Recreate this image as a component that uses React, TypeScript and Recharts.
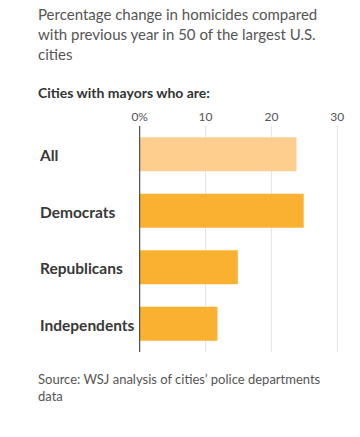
import React from "react";
import { BarChart, Bar, XAxis, YAxis, CartesianGrid, Cell } from "recharts";

const categories = ["All", "Democrats", "Republicans", "Independents"];
const values = [23.8, 24.9, 14.9, 11.8];
const barColors = ["#FDCE8E", "#FBB130", "#FBB130", "#FBB130"];
const xTicks = [0, 10, 20, 30];

const data = categories.map((c, i) => ({ name: c, value: values[i] }));

const FONT = "Lato, 'Noto Sans', sans-serif";

const CatTick = (props: any) => {
  const { y, payload } = props;
  return (
    <text x={40} y={y} dy={7} textAnchor="start" fontFamily={FONT} fontWeight={700} fontSize={15.5} fill="#383838">
      {payload.value}
    </text>
  );
};

export default function App() {
  return (
    <div style={{ position: "absolute", left: 0, top: 0, width: 360, height: 437, background: "#fff", fontFamily: FONT }}>
      <div style={{ position: "absolute", left: 38, top: 4, fontSize: 15, lineHeight: "20px", color: "#555" }}>
        <div>Percentage change in homicides compared</div>
        <div>with previous year in 50 of the largest U.S.</div>
        <div>cities</div>
      </div>
      <div style={{ position: "absolute", left: 38, top: 83, fontSize: 14, lineHeight: "20px", fontWeight: 700, color: "#333" }}>
        Cities with mayors who are:
      </div>
      <div style={{ position: "absolute", left: 0, top: 0 }}>
        <BarChart
          width={360}
          height={437}
          data={data}
          layout="vertical"
          margin={{ top: 106, right: 22.7, bottom: 85, left: 39.7 }}
          barCategoryGap="20%"
        >
          <CartesianGrid horizontal={false} vertical={true} stroke="#e3e3e3" strokeWidth={1} />
          <XAxis
            type="number"
            orientation="top"
            domain={[0, 30]}
            ticks={xTicks}
            tickFormatter={(v: number) => (v === 0 ? "0%" : String(v))}
            axisLine={false}
            tickLine={false}
            tickSize={0}
            tickMargin={5}
            height={20}
            tick={{ fill: "#555", fontSize: 12, fontFamily: FONT }}
          />
          <YAxis
            type="category"
            dataKey="name"
            width={100}
            axisLine={{ stroke: "#333", strokeWidth: 1 }}
            tickLine={false}
            tick={<CatTick />}
          />
          <Bar dataKey="value" isAnimationActive={false}>
            {data.map((d, i) => (
              <Cell key={d.name} fill={barColors[i]} />
            ))}
          </Bar>
        </BarChart>
      </div>
      <div style={{ position: "absolute", left: 38, top: 371, fontSize: 13, lineHeight: "17px", color: "#555" }}>
        <div>Source: WSJ analysis of cities’ police departments</div>
        <div>data</div>
      </div>
    </div>
  );
}
